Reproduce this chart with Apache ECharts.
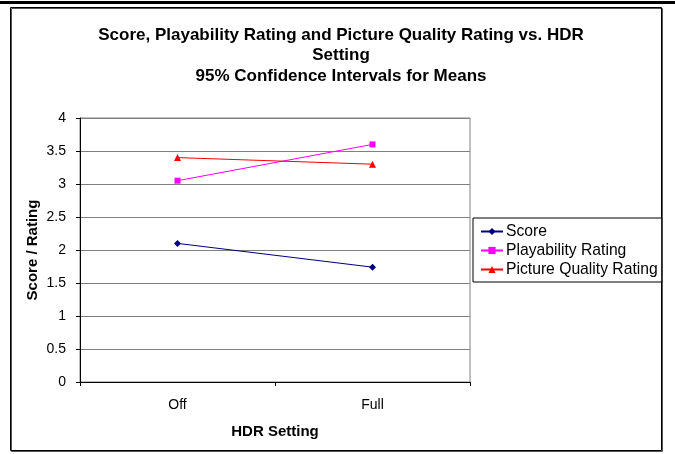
<!DOCTYPE html>
<html>
<head>
<meta charset="utf-8">
<title>Score vs HDR Setting</title>
<script src="https://cdn.jsdelivr.net/npm/echarts@6/dist/echarts.min.js"></script>
<style>
  html, body { margin: 0; padding: 0; background: #fff; }
  #chart { width: 675px; height: 454px; }
</style>
</head>
<body>
<div id="chart"></div>
<script>
  // data
  var categories = ['Off', 'Full'];
  var scoreVals = [2.1, 1.74];
  var playVals = [3.05, 3.6];
  var pictureVals = [3.4, 3.3];
  var yTicks = [0, 0.5, 1, 1.5, 2, 2.5, 3, 3.5, 4];

  var font = 'Liberation Sans, Arial, sans-serif';

  var myChart = echarts.init(document.getElementById('chart'));

  var option = {
    animation: false,
    backgroundColor: '#fff',
    textStyle: { fontFamily: font },
    title: {
      text: 'Score, Playability Rating and Picture Quality Rating vs. HDR\nSetting\n95% Confidence Intervals for Means',
      left: 336,
      textAlign: 'center',
      top: 20,
      textStyle: { fontFamily: font, fontSize: 17, fontWeight: 'bold', color: '#000', lineHeight: 20.5 }
    },
    graphic: [
      // black rule across the top
      { type: 'rect', shape: { x: 0, y: 1, width: 675, height: 3 }, style: { fill: '#000' }, silent: true },
      // chart area frame with a small shadow
      { type: 'rect', shape: { x: 11.5, y: 8.5, width: 651, height: 443 }, style: { fill: 'none', stroke: '#555', lineWidth: 1 }, silent: true },
      { type: 'rect', shape: { x: 10.5, y: 7.5, width: 651, height: 443 }, style: { fill: 'none', stroke: '#000', lineWidth: 1 }, silent: true }
    ],
    legend: {
      orient: 'vertical',
      left: 473,
      top: 218,
      padding: [5, 4, 4, 7],
      itemGap: 2,
      itemWidth: 22,
      itemHeight: 9,
      borderColor: '#000',
      borderWidth: 1,
      backgroundColor: '#fff',
      textStyle: { fontFamily: font, fontSize: 15.7, color: '#000', lineHeight: 17, padding: [0, 0, 0, -2] },
      data: ['Score', 'Playability Rating', 'Picture Quality Rating']
    },
    grid: {
      left: 80,
      right: 205,
      top: 118,
      bottom: 72,
      show: true,
      borderColor: '#808080',
      borderWidth: 1,
      backgroundColor: '#fff'
    },
    xAxis: {
      type: 'category',
      data: categories,
      boundaryGap: true,
      name: 'HDR Setting',
      nameLocation: 'middle',
      nameGap: 42,
      nameMoveOverlap: false,
      nameTextStyle: { fontFamily: font, fontSize: 15, fontWeight: 'bold', color: '#000' },
      axisLine: { lineStyle: { color: '#000', width: 1 } },
      axisTick: { show: true, alignWithLabel: false, length: 4, lineStyle: { color: '#000' } },
      axisLabel: { fontFamily: font, fontSize: 14, color: '#000', margin: 16 },
      splitLine: { show: false }
    },
    yAxis: {
      type: 'value',
      min: yTicks[0],
      max: yTicks[yTicks.length - 1],
      interval: 0.5,
      name: 'Score / Rating',
      nameLocation: 'middle',
      nameGap: 40,
      nameMoveOverlap: false,
      nameTextStyle: { fontFamily: font, fontSize: 15, fontWeight: 'bold', color: '#000' },
      axisLine: { show: true, lineStyle: { color: '#000', width: 1 } },
      axisTick: { show: true, length: 4, lineStyle: { color: '#000' } },
      axisLabel: { fontFamily: font, fontSize: 14, color: '#000', margin: 14 },
      splitLine: { show: true, lineStyle: { color: '#808080', width: 1 } }
    },
    series: [
      {
        name: 'Score',
        type: 'line',
        data: scoreVals,
        symbol: 'diamond',
        symbolSize: 7,
        color: '#000080',
        lineStyle: { color: '#000080', width: 1 },
        itemStyle: { color: '#000080' }
      },
      {
        name: 'Playability Rating',
        type: 'line',
        data: playVals,
        symbol: 'rect',
        symbolSize: 6,
        color: '#ff00ff',
        lineStyle: { color: '#ff00ff', width: 1 },
        itemStyle: { color: '#ff00ff' }
      },
      {
        name: 'Picture Quality Rating',
        type: 'line',
        data: pictureVals,
        symbol: 'triangle',
        symbolSize: 7,
        color: '#ff0000',
        lineStyle: { color: '#ff0000', width: 1 },
        itemStyle: { color: '#ff0000' }
      }
    ]
  };

  myChart.setOption(option);
</script>
</body>
</html>
